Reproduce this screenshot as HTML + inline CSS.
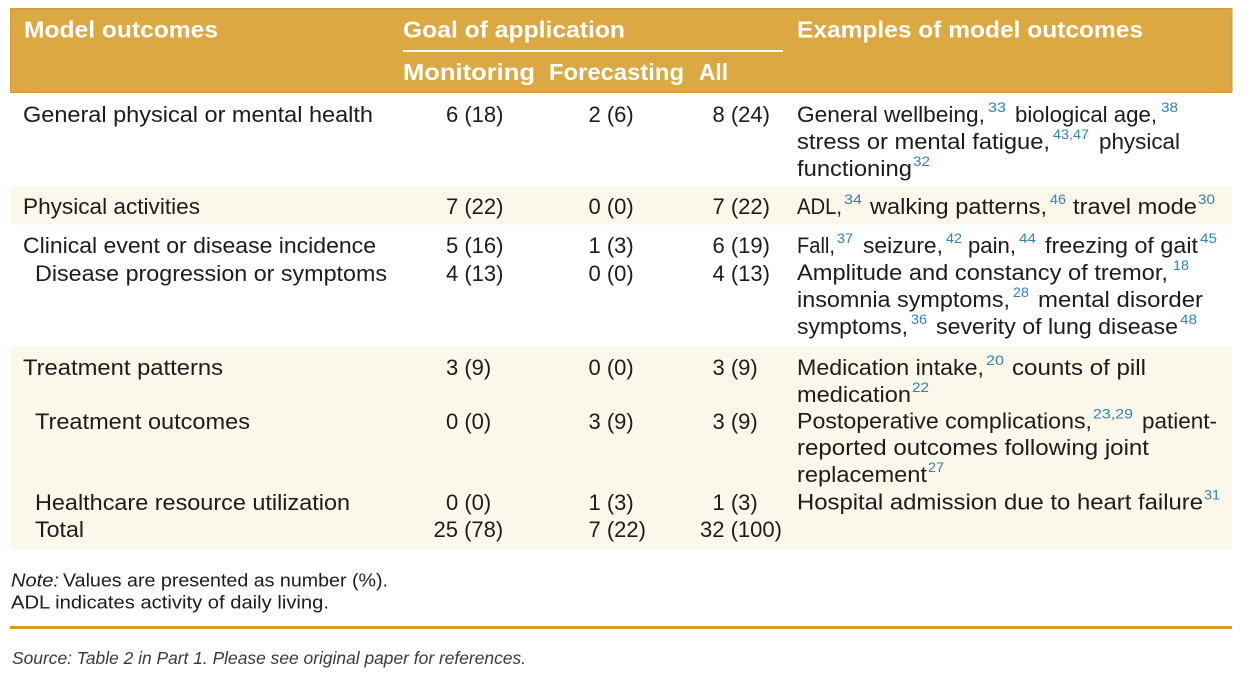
<!DOCTYPE html>
<html>
<head>
<meta charset="utf-8">
<style>
html,body{margin:0;padding:0;background:#fff;}
svg{display:block;}
.h{font-family:"Liberation Sans",sans-serif;font-weight:bold;font-size:23px;fill:#fff;}
.b{font-family:"Liberation Sans",sans-serif;font-size:22.5px;fill:#1c1c1c;}
.n{font-family:"Liberation Sans",sans-serif;font-size:22px;fill:#1c1c1c;}
.s{font-family:"Liberation Sans",sans-serif;font-size:14px;fill:#2f83bd;}
.nt{font-family:"Liberation Sans",sans-serif;font-size:18px;fill:#1c1c1c;}
.src{font-family:"Liberation Sans",sans-serif;font-size:17.5px;font-style:italic;fill:#3a3a3a;}
</style>
</head>
<body>
<svg width="1256" height="682" viewBox="0 0 1256 682" xmlns="http://www.w3.org/2000/svg">
<!-- backgrounds -->
<rect x="10.5" y="8.5" width="1221.5" height="84" fill="#DBA841" stroke="#D49B30" stroke-width="1"/>
<rect x="11" y="186.5" width="1221" height="38" fill="#FBF7EA"/>
<rect x="11" y="346.5" width="1221" height="203" fill="#FBF7EA"/>
<rect x="403" y="50" width="380" height="2" fill="#fff"/>
<rect x="10" y="626" width="1222" height="3" fill="#D99A2B"/>

<!-- header -->
<text class="h" x="24" y="37.5" textLength="194" lengthAdjust="spacingAndGlyphs">Model outcomes</text>
<text class="h" x="403" y="37.5" textLength="222" lengthAdjust="spacingAndGlyphs">Goal of application</text>
<text class="h" x="797" y="37.5" textLength="346" lengthAdjust="spacingAndGlyphs">Examples of model outcomes</text>
<text class="h" x="403" y="80" textLength="132" lengthAdjust="spacingAndGlyphs">Monitoring</text>
<text class="h" x="549" y="80" textLength="135" lengthAdjust="spacingAndGlyphs">Forecasting</text>
<text class="h" x="699" y="80" textLength="29" lengthAdjust="spacingAndGlyphs">All</text>

<!-- row labels -->
<text class="b" x="23" y="122" textLength="350" lengthAdjust="spacingAndGlyphs">General physical or mental health</text>
<text class="b" x="23" y="214" textLength="177" lengthAdjust="spacingAndGlyphs">Physical activities</text>
<text class="b" x="23" y="253" textLength="353" lengthAdjust="spacingAndGlyphs">Clinical event or disease incidence</text>
<text class="b" x="35" y="281" textLength="352" lengthAdjust="spacingAndGlyphs">Disease progression or symptoms</text>
<text class="b" x="23" y="375" textLength="200" lengthAdjust="spacingAndGlyphs">Treatment patterns</text>
<text class="b" x="35" y="429" textLength="215" lengthAdjust="spacingAndGlyphs">Treatment outcomes</text>
<text class="b" x="35" y="510" textLength="315" lengthAdjust="spacingAndGlyphs">Healthcare resource utilization</text>
<text class="b" x="35" y="537" textLength="49" lengthAdjust="spacingAndGlyphs">Total</text>

<!-- numbers col 1 -->
<text class="n" x="446" y="122">6 (18)</text>
<text class="n" x="446" y="214">7 (22)</text>
<text class="n" x="446" y="253">5 (16)</text>
<text class="n" x="446" y="281">4 (13)</text>
<text class="n" x="446" y="375">3 (9)</text>
<text class="n" x="446" y="429">0 (0)</text>
<text class="n" x="446" y="510">0 (0)</text>
<text class="n" x="433.5" y="537">25 (78)</text>
<!-- col 2 -->
<text class="n" x="588.5" y="122">2 (6)</text>
<text class="n" x="588.5" y="214">0 (0)</text>
<text class="n" x="588.5" y="253">1 (3)</text>
<text class="n" x="588.5" y="281">0 (0)</text>
<text class="n" x="588.5" y="375">0 (0)</text>
<text class="n" x="588.5" y="429">3 (9)</text>
<text class="n" x="588.5" y="510">1 (3)</text>
<text class="n" x="588.5" y="537">7 (22)</text>
<!-- col 3 -->
<text class="n" x="712.5" y="122">8 (24)</text>
<text class="n" x="712.5" y="214">7 (22)</text>
<text class="n" x="712.5" y="253">6 (19)</text>
<text class="n" x="712.5" y="281">4 (13)</text>
<text class="n" x="712.5" y="375">3 (9)</text>
<text class="n" x="712.5" y="429">3 (9)</text>
<text class="n" x="712.5" y="510">1 (3)</text>
<text class="n" x="700" y="537">32 (100)</text>

<!-- examples -->
<text class="b" x="797" y="122" textLength="188" lengthAdjust="spacingAndGlyphs">General wellbeing,</text>
<text class="s" x="988" y="112" textLength="18" lengthAdjust="spacingAndGlyphs">33</text>
<text class="b" x="1015" y="122" textLength="142" lengthAdjust="spacingAndGlyphs">biological age,</text>
<text class="s" x="1161" y="112" textLength="17" lengthAdjust="spacingAndGlyphs">38</text>

<text class="b" x="797" y="149" textLength="253" lengthAdjust="spacingAndGlyphs">stress or mental fatigue,</text>
<text class="s" x="1053" y="139" textLength="36" lengthAdjust="spacingAndGlyphs">43,47</text>
<text class="b" x="1099" y="149" textLength="81" lengthAdjust="spacingAndGlyphs">physical</text>

<text class="b" x="797" y="176" textLength="115" lengthAdjust="spacingAndGlyphs">functioning</text>
<text class="s" x="913" y="166" textLength="17" lengthAdjust="spacingAndGlyphs">32</text>

<text class="b" x="797" y="214" textLength="45" lengthAdjust="spacingAndGlyphs">ADL,</text>
<text class="s" x="844" y="204" textLength="18" lengthAdjust="spacingAndGlyphs">34</text>
<text class="b" x="870" y="214" textLength="177" lengthAdjust="spacingAndGlyphs">walking patterns,</text>
<text class="s" x="1050" y="204" textLength="16" lengthAdjust="spacingAndGlyphs">46</text>
<text class="b" x="1073" y="214" textLength="124" lengthAdjust="spacingAndGlyphs">travel mode</text>
<text class="s" x="1198" y="204" textLength="17" lengthAdjust="spacingAndGlyphs">30</text>

<text class="b" x="797" y="253" textLength="38" lengthAdjust="spacingAndGlyphs">Fall,</text>
<text class="s" x="837" y="243" textLength="16" lengthAdjust="spacingAndGlyphs">37</text>
<text class="b" x="863" y="253" textLength="80" lengthAdjust="spacingAndGlyphs">seizure,</text>
<text class="s" x="946" y="243" textLength="16" lengthAdjust="spacingAndGlyphs">42</text>
<text class="b" x="968" y="253" textLength="48" lengthAdjust="spacingAndGlyphs">pain,</text>
<text class="s" x="1019" y="243" textLength="17" lengthAdjust="spacingAndGlyphs">44</text>
<text class="b" x="1045" y="253" textLength="153" lengthAdjust="spacingAndGlyphs">freezing of gait</text>
<text class="s" x="1200" y="243" textLength="17" lengthAdjust="spacingAndGlyphs">45</text>

<text class="b" x="797" y="280" textLength="371" lengthAdjust="spacingAndGlyphs">Amplitude and constancy of tremor,</text>
<text class="s" x="1173" y="270" textLength="16" lengthAdjust="spacingAndGlyphs">18</text>

<text class="b" x="797" y="307" textLength="213" lengthAdjust="spacingAndGlyphs">insomnia symptoms,</text>
<text class="s" x="1013" y="297" textLength="16" lengthAdjust="spacingAndGlyphs">28</text>
<text class="b" x="1038" y="307" textLength="165" lengthAdjust="spacingAndGlyphs">mental disorder</text>

<text class="b" x="797" y="334" textLength="111" lengthAdjust="spacingAndGlyphs">symptoms,</text>
<text class="s" x="911" y="324" textLength="16" lengthAdjust="spacingAndGlyphs">36</text>
<text class="b" x="936" y="334" textLength="242" lengthAdjust="spacingAndGlyphs">severity of lung disease</text>
<text class="s" x="1180" y="324" textLength="17" lengthAdjust="spacingAndGlyphs">48</text>

<text class="b" x="797" y="375" textLength="187" lengthAdjust="spacingAndGlyphs">Medication intake,</text>
<text class="s" x="986" y="365" textLength="18" lengthAdjust="spacingAndGlyphs">20</text>
<text class="b" x="1012" y="375" textLength="134" lengthAdjust="spacingAndGlyphs">counts of pill</text>

<text class="b" x="797" y="402" textLength="114" lengthAdjust="spacingAndGlyphs">medication</text>
<text class="s" x="912" y="392" textLength="17" lengthAdjust="spacingAndGlyphs">22</text>

<text class="b" x="797" y="428.5" textLength="295" lengthAdjust="spacingAndGlyphs">Postoperative complications,</text>
<text class="s" x="1093" y="418.5" textLength="40" lengthAdjust="spacingAndGlyphs">23,29</text>
<text class="b" x="1142" y="428.5" textLength="75" lengthAdjust="spacingAndGlyphs">patient-</text>

<text class="b" x="797" y="455" textLength="352" lengthAdjust="spacingAndGlyphs">reported outcomes following joint</text>

<text class="b" x="797" y="482" textLength="130" lengthAdjust="spacingAndGlyphs">replacement</text>
<text class="s" x="928" y="472" textLength="16" lengthAdjust="spacingAndGlyphs">27</text>

<text class="b" x="797" y="509.5" textLength="406" lengthAdjust="spacingAndGlyphs">Hospital admission due to heart failure</text>
<text class="s" x="1204" y="499.5" textLength="16" lengthAdjust="spacingAndGlyphs">31</text>

<!-- notes -->
<text class="nt" x="11" y="586.5" font-style="italic" textLength="48" lengthAdjust="spacingAndGlyphs">Note:</text>
<text class="nt" x="63" y="586.5" textLength="325" lengthAdjust="spacingAndGlyphs">Values are presented as number (%).</text>
<text class="nt" x="11" y="608.5" textLength="318" lengthAdjust="spacingAndGlyphs">ADL indicates activity of daily living.</text>

<text class="src" x="12" y="664" textLength="514" lengthAdjust="spacingAndGlyphs">Source: Table 2 in Part 1. Please see original paper for references.</text>
</svg>
</body>
</html>
